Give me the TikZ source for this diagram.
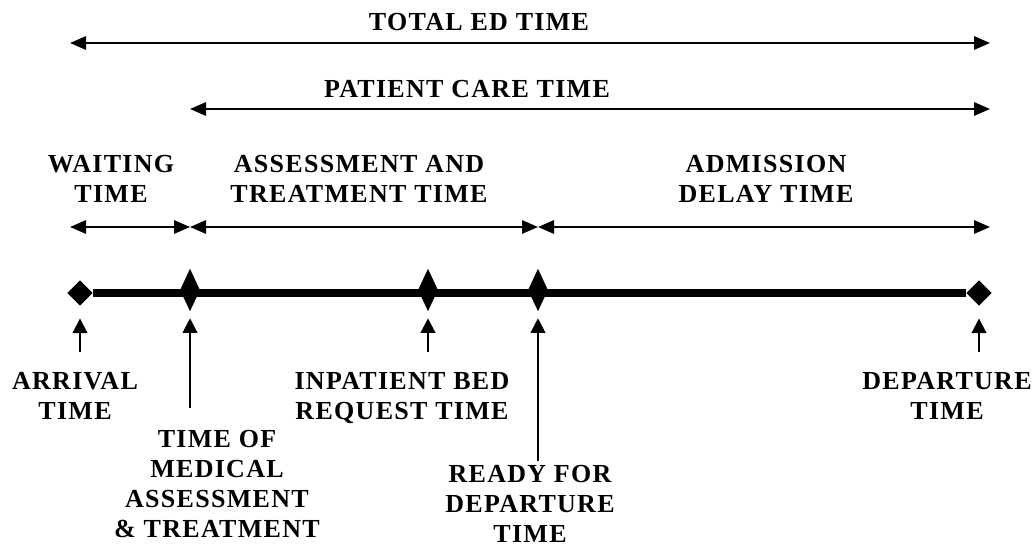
\documentclass[tikz,border=0pt]{standalone}
\usepackage{fontspec}
\setmainfont{Liberation Serif}[LetterSpace=5]
\usetikzlibrary{shapes.geometric,arrows.meta}
\begin{document}
\begin{tikzpicture}[x=0.75pt,y=-0.75pt,
  lbl/.style={font=\fontsize{19.5pt}{22.5pt}\selectfont\bfseries, align=center, anchor=north, inner sep=0pt},
  span/.style={line width=1.5pt, {Triangle[length=12pt,width=10pt]}-{Triangle[length=12pt,width=10pt]}},
  up/.style={line width=1.5pt, -{Triangle[length=11pt,width=11pt]}},
  wide/.style={diamond, fill=black, draw=none, inner sep=0pt, minimum width=19pt, minimum height=19pt},
  tall/.style={diamond, fill=black, draw=none, inner sep=0pt, minimum width=15pt, minimum height=32pt},
]
\useasboundingbox (0,0) rectangle (1036,549);
% span coordinates
\coordinate (t1) at (70,43);
\coordinate (t2) at (990,43);
\coordinate (p1) at (190,109);
\coordinate (p2) at (990,109);
\coordinate (w1) at (70,227);
\coordinate (w2) at (190,227);
\coordinate (a2) at (538,227);
\coordinate (m2) at (990,227);
\draw[span] (t1) -- (t2);
\draw[span] (p1) -- (p2);
\draw[span] (w1) -- (w2);
\draw[span] (w2) -- (a2);
\draw[span] (a2) -- (m2);
% timeline
\node[wide] (d1) at (80,293) {};
\node[tall] (d2) at (190,290) {};
\node[tall] (d3) at (428,290) {};
\node[tall] (d4) at (538,290) {};
\node[wide] (d5) at (979,293) {};
\draw[line width=6pt] (d1) -- (d5);
% upward pointers
\coordinate (u1) at (80,352);
\coordinate (u2) at (190,408);
\coordinate (u3) at (428,352);
\coordinate (u4) at (538,461);
\coordinate (u5) at (979,352);
\draw[up, shorten >=9.4pt] (u1) -- (d1.south);
\draw[up, shorten >=5pt] (u2) -- (d2.south);
\draw[up, shorten >=5pt] (u3) -- (d3.south);
\draw[up, shorten >=5pt] (u4) -- (d4.south);
\draw[up, shorten >=9.4pt] (u5) -- (d5.south);
% labels
\node[lbl] (ttot) at (479,13) {TOTAL ED TIME};
\node[lbl] (tpc) at (467,80) {PATIENT CARE TIME};
\node[lbl] (twt) at (111,155) {WAITING\\TIME};
\node[lbl] (tat) at (359,155) {ASSESSMENT AND\\TREATMENT TIME};
\node[lbl] (tad) at (766,155) {ADMISSION\\DELAY TIME};
\node[lbl] (larr) at (75,372) {ARRIVAL\\TIME};
\node[lbl] (lmed) at (217,430) {TIME OF\\MEDICAL\\ASSESSMENT\\\& TREATMENT};
\node[lbl] (linp) at (402,372) {INPATIENT BED\\REQUEST TIME};
\node[lbl] (lrdy) at (530,465) {READY FOR\\DEPARTURE\\TIME};
\node[lbl] (ldep) at (947,372) {DEPARTURE\\TIME};
\end{tikzpicture}
\end{document}
